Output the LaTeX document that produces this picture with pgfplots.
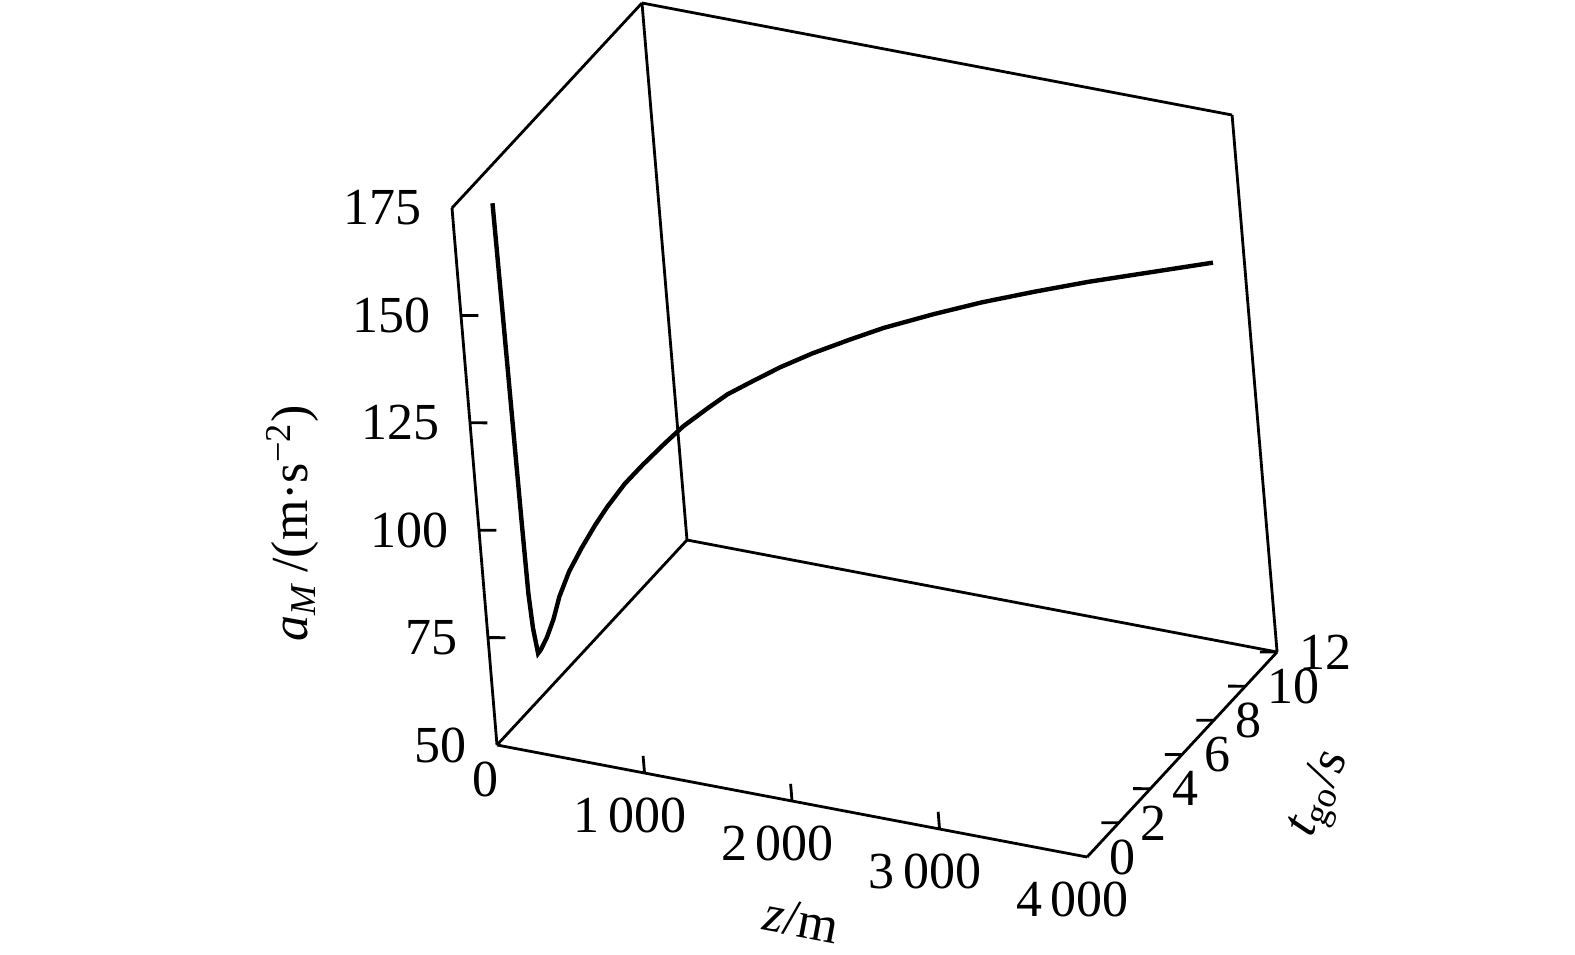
\documentclass[border=0pt]{standalone}
\usepackage{fontspec}
\setmainfont{Liberation Serif}
\usepackage{pgfplots}
\pgfplotsset{compat=1.18}
\begin{document}
\begin{tikzpicture}
% 1 px of the reference = 0.25pt
\begin{axis}[
  x={(0.036875pt,-0.007pt)},
  y={(3.958333pt,4.270833pt)},
  z={(-0.09pt,1.074pt)},
  xmin=0,xmax=4000,ymin=0,ymax=12,zmin=50,zmax=175,
  xtick={0,1000,2000,3000,4000},
  ytick={0,2,4,6,8,10,12},
  ztick={50,75,100,125,150,175},
  scaled x ticks=false,
  /pgf/number format/assume math mode=true,
  /pgf/number format/1000 sep={\,},
  tick style={draw=none},
  axis line style={black,line width=0.7pt},
  tick label style={font=\fontsize{13}{13}\selectfont},
  zticklabel style={anchor=east,xshift=-4pt},
  yticklabel style={anchor=west,xshift=2pt},
  xlabel={\textit{z}/m},
  ylabel={\textit{t}\textsubscript{go}/s},
  zlabel={\textit{a}\textsubscript{\textit{M}}\,/(m·s\textsuperscript{−2})},
  every axis x label/.style={at={(ticklabel cs:0.58,-3pt)},anchor=near ticklabel,
    sloped like x axis,font=\fontsize{13}{13}\selectfont},
  every axis y label/.style={at={(axis cs:4000,3.5,50)},xshift=44.5pt,yshift=0.75pt,
    anchor=center,rotate=66,font=\fontsize{13}{13}\selectfont},
  every axis z label/.style={at={(ticklabel cs:0.5,6pt)},rotate=90,anchor=south,
    font=\fontsize{13}{13}\selectfont},
  unbounded coords=jump,
  clip=false,
]
% tick marks, drawn into the box
\addplot3[black,line width=0.7pt] coordinates {
(1000,0,50) (1000,0,54) (nan,nan,nan)
(2000,0,50) (2000,0,54) (nan,nan,nan)
(3000,0,50) (3000,0,54) (nan,nan,nan)
(0,0,75) (100,0.16,75) (nan,nan,nan)
(0,0,100) (100,0.16,100) (nan,nan,nan)
(0,0,125) (100,0.16,125) (nan,nan,nan)
(0,0,150) (100,0.16,150) (nan,nan,nan)
(4000,2,50) (3900,1.84,50) (nan,nan,nan)
(4000,4,50) (3900,3.84,50) (nan,nan,nan)
(4000,6,50) (3900,5.84,50) (nan,nan,nan)
(4000,8,50) (3900,7.84,50) (nan,nan,nan)
(4000,10,50) (3900,9.84,50) (nan,nan,nan)
(4000,12,50) (3900,11.84,50)
};
\addplot3[black,line width=1.1pt] coordinates {
(3840,11.52,141.5) (3520,10.56,141.0) (3200,9.6,140.5) (2920,8.76,139.7)
(2650,7.95,138.7) (2400,7.2,137.3) (2140,6.42,135.5) (1960,5.88,133.7)
(1768,5.30,131.6) (1600,4.8,129.3) (1452,4.36,126.8) (1320,3.96,124.5)
(1212,3.64,121.8) (1080,3.24,118.3) (980,2.94,114.9) (860,2.58,110.6)
(760,2.28,106.7) (660,1.98,101.8) (592,1.78,98.0) (512,1.54,93.0)
(440,1.32,88.0) (380,1.14,82.5) (340,1.02,77.4) (300,0.90,73.5)
(264,0.79,70.8) (248,0.74,70.0) (232,0.70,76.0) (224,0.67,84.0)
(220,0.66,101.0) (216,0.65,125.0) (212,0.64,149.0) (208,0.62,175.0)
};
\coordinate (O) at (axis cs:0,0,50);
\end{axis}
\pgfresetboundingbox
\path[use as bounding box] (O) ++(-124.25pt,-52.25pt) rectangle ++(393.75pt,238.5pt);
\end{tikzpicture}
\end{document}
